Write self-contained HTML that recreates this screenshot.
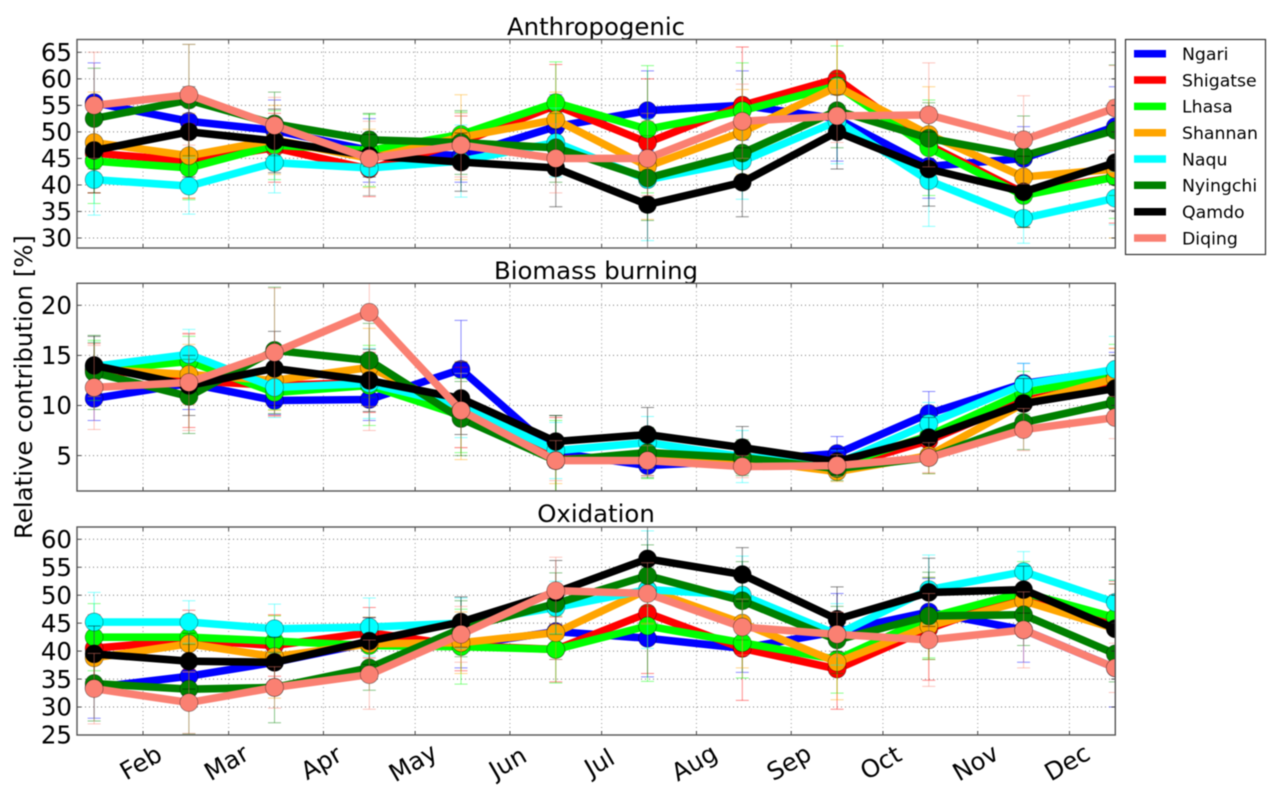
<!DOCTYPE html>
<html lang="en">
<head>
<meta charset="utf-8">
<title>Relative contribution by site</title>
<style>
html,body{margin:0;padding:0;background:#fff;width:1282px;height:798px;overflow:hidden}
svg{display:block;filter:blur(0.45px)}
text{font-family:"DejaVu Sans","Liberation Sans",sans-serif;fill:#000}
</style>
</head>
<body>
<svg id="chart" xmlns="http://www.w3.org/2000/svg" width="1282" height="798" viewBox="0 0 1282 798">
  <rect x="0" y="0" width="1282" height="798" fill="#fff"/>
  <text x="596" y="35" font-size="24.4" text-anchor="middle">Anthropogenic</text>
  <text x="596" y="279" font-size="24.4" text-anchor="middle">Biomass burning</text>
  <text x="596" y="522" font-size="24.4" text-anchor="middle">Oxidation</text>
  <text transform="translate(32,387) rotate(-90)" font-size="24.4" text-anchor="middle">Relative contribution [%]</text>
  <g id="panels"></g>
  <g>
    <rect x="1125.5" y="39.5" width="140" height="215" fill="#fff" stroke="#333" stroke-width="1.2"/>
    <g><line x1="1134" x2="1166" y1="53.7" y2="53.7" stroke="#0000ff" stroke-width="7.5"/><text x="1182" y="60" font-size="17.3">Ngari</text></g>
    <g><line x1="1134" x2="1166" y1="80" y2="80" stroke="#ff0000" stroke-width="7.5"/><text x="1182" y="86.3" font-size="17.3">Shigatse</text></g>
    <g><line x1="1134" x2="1166" y1="106.4" y2="106.4" stroke="#00ff00" stroke-width="7.5"/><text x="1182" y="112.7" font-size="17.3">Lhasa</text></g>
    <g><line x1="1134" x2="1166" y1="132.7" y2="132.7" stroke="#ffa500" stroke-width="7.5"/><text x="1182" y="139" font-size="17.3">Shannan</text></g>
    <g><line x1="1134" x2="1166" y1="159" y2="159" stroke="#00ffff" stroke-width="7.5"/><text x="1182" y="165.3" font-size="17.3">Naqu</text></g>
    <g><line x1="1134" x2="1166" y1="185.3" y2="185.3" stroke="#008000" stroke-width="7.5"/><text x="1182" y="191.6" font-size="17.3">Nyingchi</text></g>
    <g><line x1="1134" x2="1166" y1="211.7" y2="211.7" stroke="#000000" stroke-width="7.5"/><text x="1182" y="218" font-size="17.3">Qamdo</text></g>
    <g><line x1="1134" x2="1166" y1="238" y2="238" stroke="#fa8072" stroke-width="7.5"/><text x="1182" y="244.3" font-size="17.3">Diqing</text></g>
  </g>
</svg>
<script>
const pointDays = [15,46,74,105,135,166,196,227,258,288,319,349];
const monthTickDays = [31,59,90,120,151,181,212,243,273,304,334];
const monthTickLabels = ['Feb','Mar','Apr','May','Jun','Jul','Aug','Sep','Oct','Nov','Dec'];
const siteNames = ['Ngari','Shigatse','Lhasa','Shannan','Naqu','Nyingchi','Qamdo','Diqing'];

const anthropogenicTicks = [30,35,40,45,50,55,60,65];
const biomassTicks = [5,10,15,20];
const oxidationTicks = [25,30,35,40,45,50,55,60];

const anthropogenicNgari = [55.5,52,50.3,46.5,45.5,51,54,55,52.5,43.5,45,51];
const anthropogenicShigatse = [46,44.5,47,43,48,55,48,55,60,47.5,38.5,41.5];
const anthropogenicLhasa = [44.5,43.2,47.5,46.5,49.5,55.5,50.5,54,58.7,47,38,41.5];
const anthropogenicShannan = [48,45.5,48.5,45,49,52.3,43.5,50,58.5,49.5,41.5,43];
const anthropogenicNaqu = [41,39.8,44.2,43.2,44.5,48,41,44.5,52,40.8,33.7,37.5];
const anthropogenicNyingchi = [52.5,56,51.5,48.5,48,47,41.3,46,54,48.8,45.5,50.3];
const anthropogenicQamdo = [46.5,50,48.3,45.5,44.3,43.2,36.3,40.5,50,43,38.7,44.2];
const anthropogenicDiqing = [55,57,51.2,45,47.5,45,45,52,53,53.2,48.5,54.5];

const anthropogenicNgariErr = [7.5,6,5.7,6,5,6,7.5,6.5,8,6,6,7.5];
const anthropogenicShigatseErr = [7.5,7,6.5,5.2,5,7.7,12,11,9,7,6.5,8.7];
const anthropogenicLhasaErr = [8,6,6.5,6.8,4.2,7.7,12,9,7.5,9,6,7.8];
const anthropogenicShannanErr = [9.5,8,6.5,5.5,8,5.2,10,8,9,9,7,13];
const anthropogenicNaquErr = [6.7,5.3,5.7,5.2,6.8,6.5,11.5,7.2,8,8.6,4.7,5];
const anthropogenicNyingchiErr = [9.5,10.5,6,5,6,6.5,8,6.5,7,6.7,7.5,12.3];
const anthropogenicQamdoErr = [8,8.5,6,4,5.5,7.3,8.3,6.5,7,7,6.7,9];
const anthropogenicDiqingErr = [10,9.5,5.3,7,6,6.5,7,7,5,9.8,8.3,8];

const biomassNgari = [10.7,12.2,10.5,10.6,13.6,5.3,4,4.5,5.2,9.2,12.2,13.5];
const biomassShigatse = [13.7,12.5,12,12.3,9.8,4.6,5,4.5,3.8,6.5,10.5,12.3];
const biomassLhasa = [13.5,14.4,11.3,12,9,4.5,5.2,4.7,4,7,11.3,13];
const biomassShannan = [13.6,13.1,12.5,13.8,9.5,4.5,5.2,4.6,3.4,5,10.2,12.7];
const biomassNaqu = [13.9,15.1,11.8,12.2,10,5.5,6.3,4.9,4.2,8.2,12.1,13.6];
const biomassNyingchi = [13.3,10.9,15.5,14.5,8.7,4.5,5.3,4.8,3.7,4.8,8.3,10.3];
const biomassQamdo = [14,12,13.7,12.5,10.7,6.4,7.1,5.8,4.4,6.8,10.2,11.7];
const biomassDiqing = [11.8,12.3,15.3,19.3,9.5,4.5,4.5,3.9,4,4.8,7.6,8.8];

const biomassNgariErr = [2.2,2.6,1.4,2.1,4.9,1.5,1,1,1.7,2.2,2,1.8];
const biomassShigatseErr = [2.5,4.7,3,3,4,4.2,1.3,1,1,2,2.4,3.4];
const biomassLhasaErr = [3,2.5,1.7,4,3.7,4,2.5,1.5,1,2,2.1,3.1];
const biomassShannanErr = [2.7,3,3,3.9,4.9,2.3,2.2,1.2,1,1.8,2.2,3];
const biomassNaquErr = [2.4,2.5,3,3.5,3.2,2.8,2.6,2.6,1.3,2.1,2.1,3.3];
const biomassNyingchiErr = [3.7,3.7,6.3,3.7,3.7,4.5,2.5,1.8,1.2,1.6,2.7,2];
const biomassQamdoErr = [2.9,3,3.7,3.1,3.6,2.6,2.7,2.1,1.3,2,2.5,3.3];
const biomassDiqingErr = [4.2,4.8,6.4,11.8,3.7,2,1.5,1.1,1.1,1.5,2.1,2.1];

const oxidationNgari = [33.5,35.5,38,41.5,41,43.5,42.3,40.5,43.5,47,43.8,37];
const oxidationShigatse = [40.5,42,41,43.3,41,40.3,46.8,40.5,36.8,44,50,45];
const oxidationLhasa = [42.5,42.5,41.8,41,40.8,40.3,44.5,41.5,38.5,46,50.5,46];
const oxidationShannan = [38.8,41.3,39,41.3,41.5,43.3,51,45,38,44.5,49,44];
const oxidationNaqu = [45.2,45.2,44,44.3,45,47.8,51,50,43,51,54.2,48.7];
const oxidationNyingchi = [34.2,33.2,33.5,37,44,48.5,53.5,49,42,46.3,46.5,39.5];
const oxidationQamdo = [39.5,38.2,38,41.8,45.2,50.5,56.5,53.7,45.7,50.5,51,44];
const oxidationDiqing = [33.3,30.8,33.5,35.8,43,50.8,50.3,44.3,43,42,43.8,37];

const oxidationNgariErr = [5.5,5,4.5,4.5,4,5,6.9,4.3,6.8,6,5.8,7];
const oxidationShigatseErr = [6,5.3,5.5,4.5,4.5,5.8,10.8,9.3,7.2,9.2,5,7.5];
const oxidationLhasaErr = [6,4,4.5,4.5,6.7,6,9.9,6.3,6,7.2,5.5,6.7];
const oxidationShannanErr = [6,5,7.4,4.8,5.5,4.8,6,8,6.7,6,5.5,8];
const oxidationNaquErr = [5.3,3.8,4.4,5.2,4.5,4.7,10.5,7,5.5,6.2,3.6,4];
const oxidationNyingchiErr = [6.7,8,6.3,4,5,5.5,5.5,7,6,7.8,5.5,5];
const oxidationQamdoErr = [5,5,4.5,4.2,4.5,5.7,6,4.8,5.8,6.1,4.2,8];
const oxidationDiqingErr = [6.3,5.5,3.7,6.2,5,6,5.5,5,4,8.3,6.8,4.4];

const anthropogenicSeries = [anthropogenicNgari,anthropogenicShigatse,anthropogenicLhasa,anthropogenicShannan,anthropogenicNaqu,anthropogenicNyingchi,anthropogenicQamdo,anthropogenicDiqing];
const anthropogenicErrors = [anthropogenicNgariErr,anthropogenicShigatseErr,anthropogenicLhasaErr,anthropogenicShannanErr,anthropogenicNaquErr,anthropogenicNyingchiErr,anthropogenicQamdoErr,anthropogenicDiqingErr];
const biomassSeries = [biomassNgari,biomassShigatse,biomassLhasa,biomassShannan,biomassNaqu,biomassNyingchi,biomassQamdo,biomassDiqing];
const biomassErrors = [biomassNgariErr,biomassShigatseErr,biomassLhasaErr,biomassShannanErr,biomassNaquErr,biomassNyingchiErr,biomassQamdoErr,biomassDiqingErr];
const oxidationSeries = [oxidationNgari,oxidationShigatse,oxidationLhasa,oxidationShannan,oxidationNaqu,oxidationNyingchi,oxidationQamdo,oxidationDiqing];
const oxidationErrors = [oxidationNgariErr,oxidationShigatseErr,oxidationLhasaErr,oxidationShannanErr,oxidationNaquErr,oxidationNyingchiErr,oxidationQamdoErr,oxidationDiqingErr];

const seriesColors = ['#0000ff','#ff0000','#00ff00','#ffa500','#00ffff','#008000','#000000','#fa8072'];

const SVG_NS = 'http://www.w3.org/2000/svg';
const plotLeft = 77, plotRight = 1115.3, dayMin = 9.4, dayMax = 349;
function xScale(day){ return plotLeft + (day - dayMin) / (dayMax - dayMin) * (plotRight - plotLeft); }
function makeYScale(v1, y1, v2, y2){ return function(v){ return y1 + (v - v1) / (v2 - v1) * (y2 - y1); }; }
function mk(tag, attrs, parent){
  const el = document.createElementNS(SVG_NS, tag);
  for (const k in attrs) el.setAttribute(k, attrs[k]);
  parent.appendChild(el);
  return el;
}

const panelConfigs = [
  {key:'anthropogenic', top:39.5, bottom:248, ticks:anthropogenicTicks, series:anthropogenicSeries, errors:anthropogenicErrors, y:makeYScale(30,238,65,52.3), xLabels:false},
  {key:'biomass-burning', top:283.3, bottom:491, ticks:biomassTicks, series:biomassSeries, errors:biomassErrors, y:makeYScale(5,455.6,20,305.3), xLabels:false},
  {key:'oxidation', top:527, bottom:735, ticks:oxidationTicks, series:oxidationSeries, errors:oxidationErrors, y:makeYScale(25,735,60,539.3), xLabels:true}
];

const panelsRoot = document.getElementById('panels');
panelConfigs.forEach(function(p){
  const g = mk('g', {}, panelsRoot);
  
  

  const clip = mk('clipPath', {id:'clip-' + p.key}, g);
  mk('rect', {x:plotLeft, y:p.top, width:plotRight - plotLeft, height:p.bottom - p.top}, clip);

  const grid = mk('g', {}, g);
  
  
  p.ticks.forEach(function(t){
    const yy = p.y(t);
    mk('line', {x1:plotLeft, x2:plotRight, y1:yy, y2:yy, stroke:'#777', 'stroke-width':1, 'stroke-dasharray':'1 3'}, grid);
  });
  monthTickDays.forEach(function(d){
    const xx = xScale(d);
    mk('line', {x1:xx, x2:xx, y1:p.top, y2:p.bottom, stroke:'#999', 'stroke-width':1, 'stroke-dasharray':'1 3'}, grid);
  });

  const plot = mk('g', {'clip-path':'url(#clip-' + p.key + ')'}, g);
  
  

  p.series.forEach(function(values, s){
    const color = seriesColors[s];
    const sg = mk('g', {}, plot);
    
    

    values.forEach(function(v, i){
      const e = p.errors[s][i], xx = xScale(pointDays[i]);
      const bar = mk('line', {x1:xx, x2:xx, y1:p.y(v - e), y2:p.y(v + e), stroke:color, 'stroke-width':1, 'stroke-opacity':0.45}, sg);
      
      
    });

    const pts = values.map(function(v, i){ return xScale(pointDays[i]) + ',' + p.y(v); }).join(' ');
    const line = mk('polyline', {points:pts, fill:'none', stroke:color, 'stroke-width':7.6, 'stroke-linejoin':'miter'}, sg);
    
    

    values.forEach(function(v, i){
      const dot = mk('circle', {cx:xScale(pointDays[i]), cy:p.y(v), r:9, fill:color, stroke:'#000', 'stroke-width':0.6, 'stroke-opacity':0.5}, sg);
      
      
    });

    values.forEach(function(v, i){
      const e = p.errors[s][i], xx = xScale(pointDays[i]);
      [v - e, v + e].forEach(function(c){
        const cap = mk('line', {x1:xx - 6.5, x2:xx + 6.5, y1:p.y(c), y2:p.y(c), stroke:color, 'stroke-width':1, 'stroke-opacity':0.45}, sg);
        
        
      });
    });
  });

  const axes = mk('g', {}, g);
  
  
  p.ticks.forEach(function(t){
    const yy = p.y(t);
    mk('line', {x1:plotLeft, x2:plotLeft + 4, y1:yy, y2:yy, stroke:'#222', 'stroke-width':0.8}, axes);
    mk('line', {x1:plotRight - 4, x2:plotRight, y1:yy, y2:yy, stroke:'#222', 'stroke-width':0.8}, axes);
    const lab = mk('text', {x:72, y:yy + 8.7, 'font-size':24.5, 'text-anchor':'end'}, axes);
    
    
    lab.textContent = String(t);
  });
  monthTickDays.forEach(function(d, i){
    const xx = xScale(d);
    mk('line', {x1:xx, x2:xx, y1:p.top, y2:p.top + 4, stroke:'#222', 'stroke-width':0.8}, axes);
    mk('line', {x1:xx, x2:xx, y1:p.bottom - 4, y2:p.bottom, stroke:'#222', 'stroke-width':0.8}, axes);
    if (p.xLabels) {
      const lab = mk('text', {transform:'translate(' + (xx - 2) + ',763) rotate(-30)', 'font-size':24.5, 'text-anchor':'middle', y:8}, axes);
      
      
      lab.textContent = monthTickLabels[i];
    }
  });
  const frame = mk('rect', {x:plotLeft, y:p.top, width:plotRight - plotLeft, height:p.bottom - p.top, fill:'none', stroke:'#555', 'stroke-width':1.4}, axes);
  
  
});
</script>
</body>
</html>
